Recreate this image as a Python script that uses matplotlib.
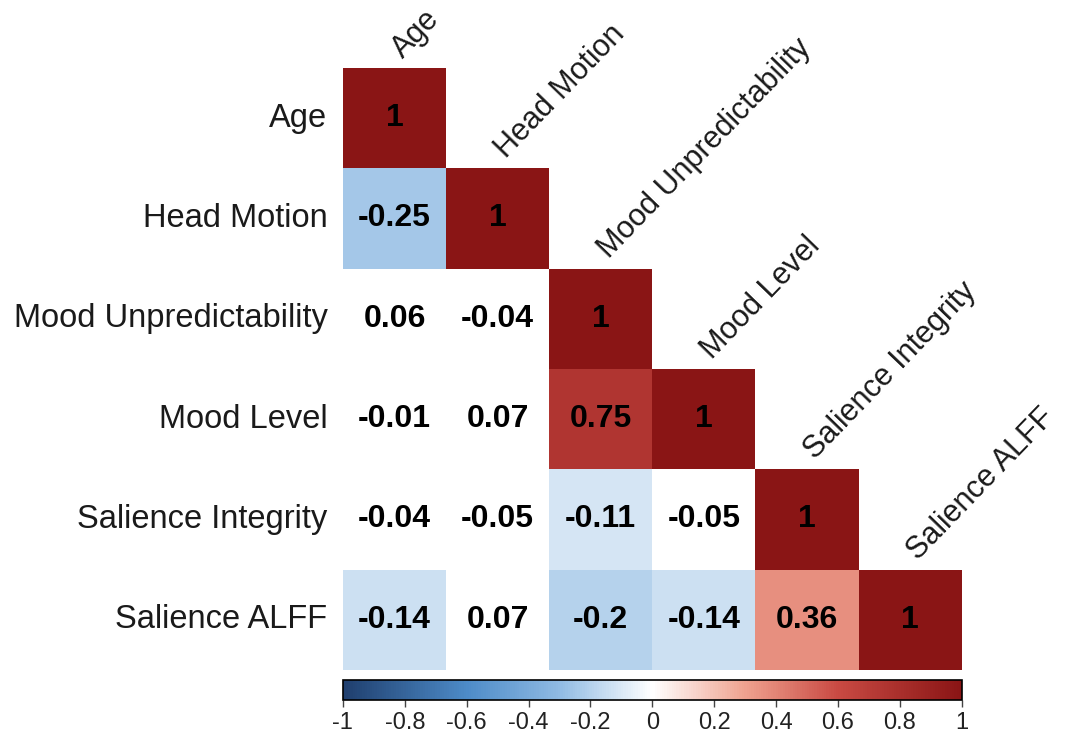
import numpy as np
import matplotlib
matplotlib.use('Agg')
import matplotlib.pyplot as plt
from matplotlib.colors import LinearSegmentedColormap, Normalize
from matplotlib.colorbar import ColorbarBase

plt.rcParams['font.family'] = ['Liberation Sans', 'DejaVu Sans']

labels = ['Age', 'Head Motion', 'Mood Unpredictability', 'Mood Level',
          'Salience Integrity', 'Salience ALFF']

# lower triangle of the correlation matrix, row by row
corr_rows = [
    [1],
    [-0.25, 1],
    [0.06, -0.04, 1],
    [-0.01, 0.07, 0.75, 1],
    [-0.04, -0.05, -0.11, -0.05, 1],
    [-0.14, 0.07, -0.2, -0.14, 0.36, 1],
]
# cells shown coloured (the rest are left blank)
signif_rows = [
    [1],
    [1, 1],
    [0, 0, 1],
    [0, 0, 1, 1],
    [0, 0, 1, 0, 1],
    [1, 0, 1, 1, 1, 1],
]

n = len(labels)
mat = np.full((n, n), np.nan)
colored = np.full((n, n), np.nan)
for i, row in enumerate(corr_rows):
    for j, v in enumerate(row):
        mat[i, j] = v
        if signif_rows[i][j]:
            colored[i, j] = v

cmap = LinearSegmentedColormap.from_list('rdbu', [
    (0.0, '#1F3F6E'), (0.2, '#4D8BC8'), (0.35, '#90BBE3'), (0.5, '#FFFFFF'),
    (0.65, '#EFA28F'), (0.8, '#C94A43'), (1.0, '#8A1515')])
norm = Normalize(-1, 1)

fig = plt.figure(figsize=(10.65, 7.39), dpi=100)
ax = fig.add_axes([0.322, 0.0934, 0.581, 0.8146])
ax.pcolormesh(np.arange(n + 1), np.arange(n + 1), np.ma.masked_invalid(colored),
              cmap=cmap, norm=norm)
ax.set_xlim(0, n)
ax.set_ylim(n, 0)
ax.axis('off')

for i in range(n):
    for j in range(i + 1):
        ax.text(j + 0.5, i + 0.5, f'{mat[i, j]:g}', ha='center', va='center',
                fontsize=23, fontweight='bold', color='black')
    ax.text(-0.15, i + 0.5, labels[i], ha='right', va='center', fontsize=23.5,
            color='#1a1a1a')
    ax.text(i + 0.58, i - 0.09, labels[i], ha='left', va='baseline', fontsize=22,
            rotation=46, rotation_mode='anchor', color='#1a1a1a')

cax = fig.add_axes([0.322, 0.0528, 0.581, 0.027])
cb = ColorbarBase(cax, cmap=cmap, norm=norm, orientation='horizontal')
cb.set_ticks(np.round(np.arange(-1, 1.01, 0.2), 1))
cb.set_ticklabels(['-1', '-0.8', '-0.6', '-0.4', '-0.2', '0', '0.2', '0.4', '0.6', '0.8', '1'])
cb.outline.set_linewidth(1.2)
cax.tick_params(labelsize=17, length=5, width=1, colors='#444444', labelcolor='#222222')

fig.savefig('out.png', dpi=100)
